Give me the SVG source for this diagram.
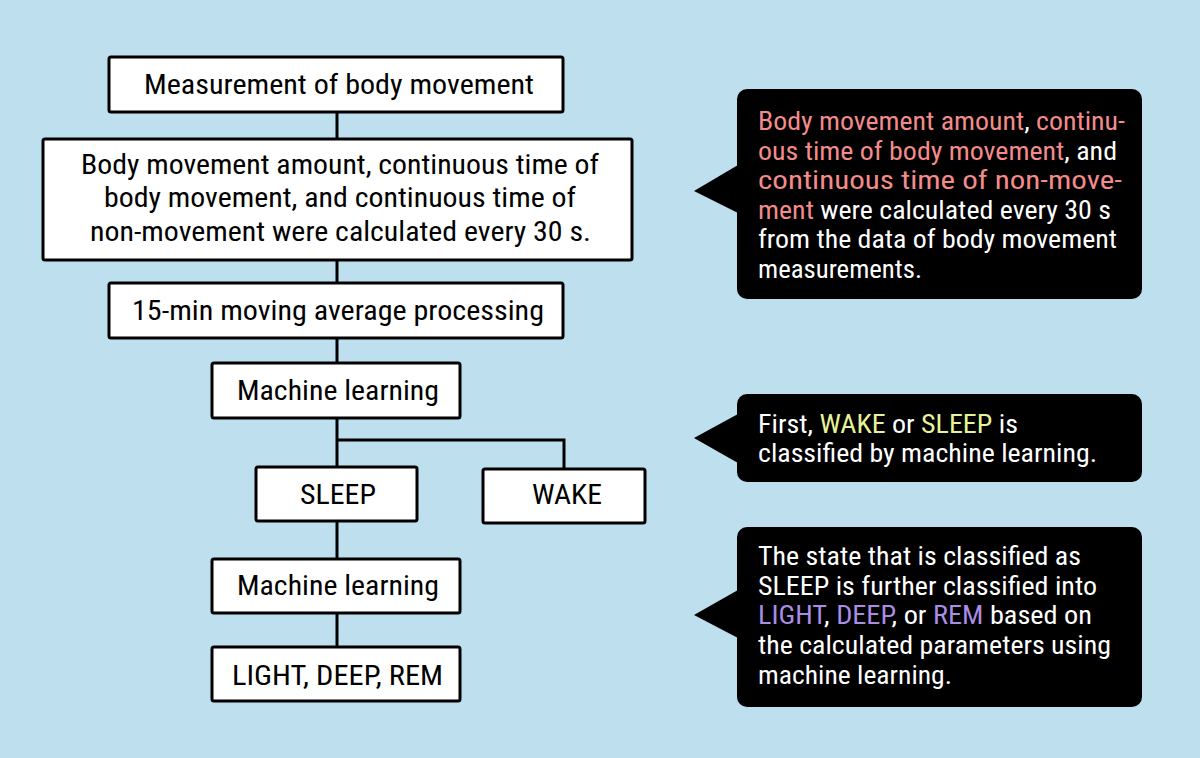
<svg xmlns="http://www.w3.org/2000/svg" width="1200" height="758" viewBox="0 0 1200 758">
<style>
.bg{fill:#bedfee}
.box{fill:#ffffff;stroke:#000000;stroke-width:3}
.lbl{font-family:"Roboto Condensed","Roboto","Liberation Sans",sans-serif;font-size:27px;fill:#000000}
.co{fill:#000000}
.ct{font-family:"Roboto Condensed","Roboto","Liberation Sans",sans-serif;font-size:26px;fill:#ffffff}
.pk{fill:#f38b8b}
.yl{fill:#e6f497}
.pu{fill:#a98ce4}
.conn{fill:none;stroke:#000000;stroke-width:3}
</style>
<rect class="bg" x="0" y="0" width="1200" height="758"/>
<g id="connectors">
<line class="conn" x1="337" y1="112" x2="337" y2="139"/>
<line class="conn" x1="337" y1="260" x2="337" y2="283"/>
<line class="conn" x1="337" y1="338" x2="337" y2="363"/>
<line class="conn" x1="337" y1="418" x2="337" y2="467"/>
<polyline class="conn" points="337,440 564,440 564,469"/>
<line class="conn" x1="337" y1="521" x2="337" y2="559"/>
<line class="conn" x1="337" y1="613" x2="337" y2="647"/>
</g>
<g id="n-measure">
<rect class="box" x="109" y="57" width="454" height="55" rx="2"/>
<text class="lbl" x="144" y="94" textLength="390" lengthAdjust="spacingAndGlyphs">Measurement of body movement</text>
</g>
<g id="n-calc">
<rect class="box" x="43" y="139" width="589" height="121" rx="2"/>
<text class="lbl" x="81" y="174" textLength="518" lengthAdjust="spacingAndGlyphs">Body movement amount, continuous time of</text>
<text class="lbl" x="104" y="207" textLength="472" lengthAdjust="spacingAndGlyphs">body movement, and continuous time of</text>
<text class="lbl" x="90" y="241" textLength="501" lengthAdjust="spacingAndGlyphs">non-movement were calculated every 30 s.</text>
</g>
<g id="n-avg">
<rect class="box" x="109" y="283" width="454" height="55" rx="2"/>
<text class="lbl" x="132" y="320" textLength="412" lengthAdjust="spacingAndGlyphs">15-min moving average processing</text>
</g>
<g id="n-ml1">
<rect class="box" x="212" y="363" width="248" height="55" rx="2"/>
<text class="lbl" x="237" y="400" textLength="202" lengthAdjust="spacingAndGlyphs">Machine learning</text>
</g>
<g id="n-sleep">
<rect class="box" x="256" y="467" width="161" height="54" rx="2"/>
<text class="lbl" x="300" y="504" textLength="76" lengthAdjust="spacingAndGlyphs">SLEEP</text>
</g>
<g id="n-wake">
<rect class="box" x="483" y="469" width="162" height="54" rx="2"/>
<text class="lbl" x="532" y="504" textLength="70" lengthAdjust="spacingAndGlyphs">WAKE</text>
</g>
<g id="n-ml2">
<rect class="box" x="212" y="559" width="248" height="54" rx="2"/>
<text class="lbl" x="237" y="595" textLength="202" lengthAdjust="spacingAndGlyphs">Machine learning</text>
</g>
<g id="n-stages">
<rect class="box" x="212" y="647" width="248" height="54" rx="2"/>
<text class="lbl" x="232" y="685" textLength="211" lengthAdjust="spacingAndGlyphs">LIGHT, DEEP, REM</text>
</g>
<g id="callout-1">
<rect class="co" x="737" y="89" width="405" height="210" rx="10"/>
<polygon class="co" points="694,191 738,165 738,213"/>
<text class="ct" x="758" y="130" textLength="367" lengthAdjust="spacingAndGlyphs"><tspan class="pk">Body movement amount</tspan>, <tspan class="pk">continu-</tspan></text>
<text class="ct" x="758" y="160" textLength="359" lengthAdjust="spacingAndGlyphs"><tspan class="pk">ous time of body movement</tspan>, and</text>
<text class="ct" x="758" y="189" textLength="364" lengthAdjust="spacingAndGlyphs"><tspan class="pk">continuous time of non-move-</tspan></text>
<text class="ct" x="758" y="219" textLength="353" lengthAdjust="spacingAndGlyphs"><tspan class="pk">ment</tspan> were calculated every 30 s</text>
<text class="ct" x="758" y="248" textLength="359" lengthAdjust="spacingAndGlyphs">from the data of body movement</text>
<text class="ct" x="758" y="278" textLength="164" lengthAdjust="spacingAndGlyphs">measurements.</text>
</g>
<g id="callout-2">
<rect class="co" x="737" y="394" width="405" height="88" rx="10"/>
<polygon class="co" points="694,438 738,414 738,463"/>
<text class="ct" x="758" y="433" textLength="260" lengthAdjust="spacingAndGlyphs">First, <tspan class="yl">WAKE</tspan> or <tspan class="yl">SLEEP</tspan> is</text>
<text class="ct" x="758" y="462" textLength="339" lengthAdjust="spacingAndGlyphs">classified by machine learning.</text>
</g>
<g id="callout-3">
<rect class="co" x="737" y="527" width="405" height="180" rx="10"/>
<polygon class="co" points="694,615 738,590 738,638"/>
<text class="ct" x="758" y="565" textLength="323" lengthAdjust="spacingAndGlyphs">The state that is classified as</text>
<text class="ct" x="758" y="595" textLength="339" lengthAdjust="spacingAndGlyphs">SLEEP is further classified into</text>
<text class="ct" x="758" y="624" textLength="334" lengthAdjust="spacingAndGlyphs"><tspan class="pu">LIGHT</tspan>, <tspan class="pu">DEEP</tspan>, or <tspan class="pu">REM</tspan> based on</text>
<text class="ct" x="758" y="654" textLength="353" lengthAdjust="spacingAndGlyphs">the calculated parameters using</text>
<text class="ct" x="758" y="684" textLength="194" lengthAdjust="spacingAndGlyphs">machine learning.</text>
</g>
</svg>
